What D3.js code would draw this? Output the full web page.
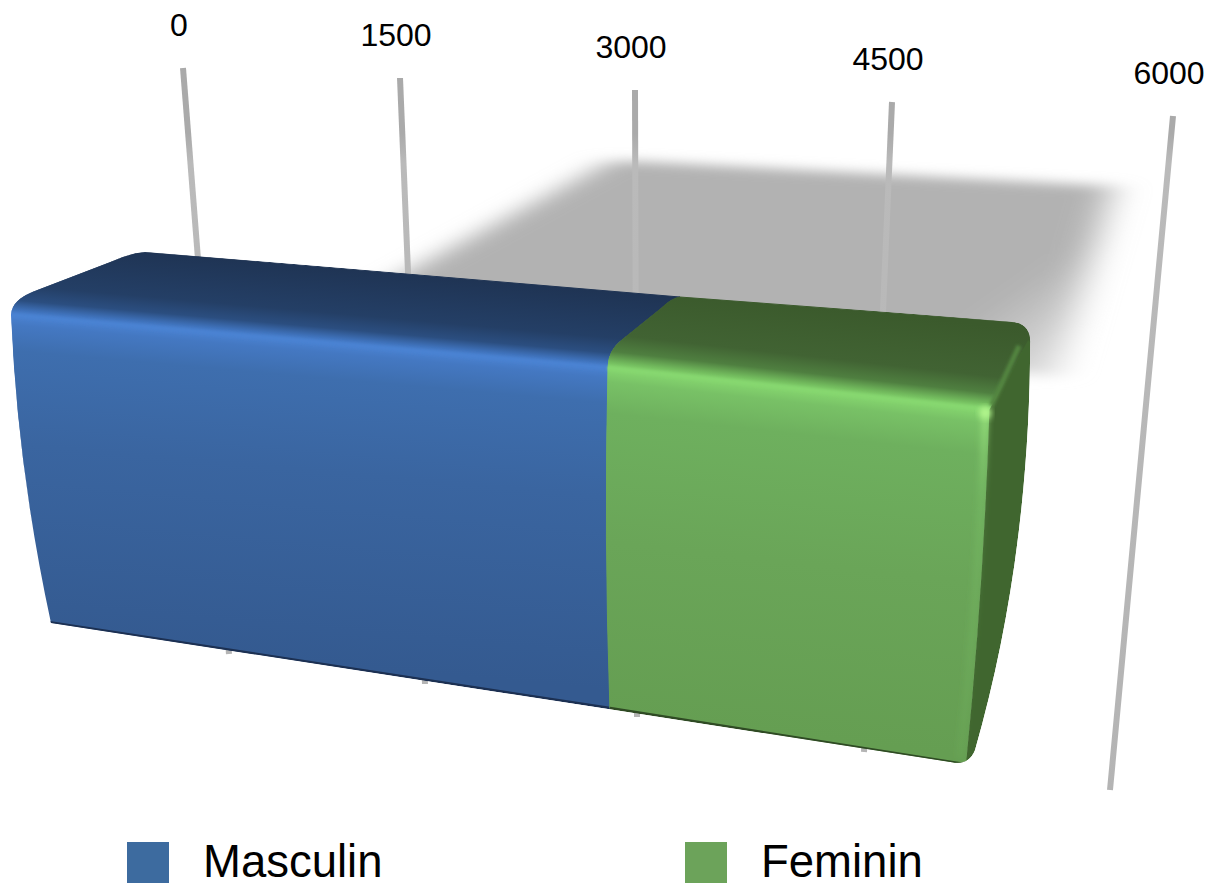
<!DOCTYPE html>
<html>
<head>
<meta charset="utf-8">
<script src="https://cdn.jsdelivr.net/npm/d3@7"></script>
<style>
body { margin: 0; background: #fff; overflow: hidden; }
text { font-family: "Liberation Sans", Arial, sans-serif; fill: #000; }
</style>
</head>
<body>
<div id="chart"></div>
<script>
// values
let tickValues = [0, 1500, 3000, 4500, 6000];
let seriesNames = ['Masculin', 'Feminin'];
let seriesValues = [3450, 1930];

// colours per series
let swatchColors = ['#3d6b9f', '#6ca35a'];
let frontStops = [
	[[0, '#4a82d2'], [0.03, '#4478c2'], [0.11, '#3e6eae'], [0.4, '#3a65a0'], [1, '#345a90']],
	[[0, '#86d76f'], [0.04, '#78c166'], [0.13, '#6eb05e'], [0.5, '#6aa558'], [1, '#659e52']]
];
let topStops = [
	[[0, '#1f3454'], [0.6, '#243f66'], [0.8, '#2b4e80'], [0.93, '#3f72bb'], [1, '#4a82d2']],
	[[0, '#3b5a2c'], [0.6, '#416333'], [0.8, '#4f7f40'], [0.93, '#73bc5e'], [1, '#86d76f']]
];
let highlightColors = ['#4a82d2', '#86d76f'];
let edgeColors = ['#1c3052', '#2f4a24'];

let width = 1209,
	height = 883,
	svg = d3.select('#chart').append('svg')
		.attr('width', width)
		.attr('height', height),
	defs = svg.append('defs');

let stack = [0, ...d3.cumsum(seriesValues)],
	total = stack[stack.length - 1];

// the chart is in perspective: every edge of the box gets its own pair of scales
let edge = (xs, ys) => {
	let sx = d3.scaleLinear().domain(tickValues).range(xs),
		sy = d3.scaleLinear().domain(tickValues).range(ys);
	return (v) => ({x: sx(v), y: sy(v)});
};
let gridTop = edge([183, 400, 635, 892, 1173], [68, 78, 90, 102, 116]),
	gridBottom = edge([229, 425, 637, 864, 1110], [654, 684, 717, 752, 790]),
	frontTop = edge([11, 262, 524, 804, 1120], [315, 338, 361, 384, 428]),
	frontBottom = edge([48, 292, 537, 780, 1097], [622, 659, 696, 736, 784]),
	backTop = edge([145, 378, 610, 843, 1162], [252, 272, 291, 311, 333]);

// sides of the box bow a little
let bow = d3.scaleLinear().domain(stack).range([-12, -5, 6]);

// shadow lies on the wall behind the box
let shadowBackX = d3.scaleLinear().domain([0, total]).range([612, 1112]),
	shadowBackY = d3.scaleLinear().domain([0, total]).range([160, 186]),
	shadowFrontX = d3.scaleLinear().domain([0, total]).range([383, 1056]),
	shadowFrontY = d3.scaleLinear().domain([0, total]).range([285, 378]);

let addBlur = (id, dev) => {
	defs.append('filter')
		.attr('id', id)
		.attr('x', '-30%').attr('y', '-30%')
		.attr('width', '160%').attr('height', '160%')
		.append('feGaussianBlur')
		.attr('stdDeviation', dev);
};
addBlur('blurShadow', '18 6');
addBlur('blurSoft', 3);
addBlur('blurThin', 1.6);

let addGradient = (id, from, to, stops) => {
	let g = defs.append('linearGradient')
		.attr('id', id)
		.attr('gradientUnits', 'userSpaceOnUse')
		.attr('x1', from.x).attr('y1', from.y)
		.attr('x2', to.x).attr('y2', to.y);
	stops.forEach((s) => {
		g.append('stop').attr('offset', s[0]).attr('stop-color', s[1]);
	});
};
let middle = (a, b) => ({x: (a.x + b.x) / 2, y: (a.y + b.y) / 2});

// foot of the perpendicular from p onto the line a-b, so shading runs across the face
let foot = (p, a, b) => {
	let dx = b.x - a.x, dy = b.y - a.y,
		t = ((p.x - a.x) * dx + (p.y - a.y) * dy) / (dx * dx + dy * dy);
	return {x: a.x + t * dx, y: a.y + t * dy};
};

// rounded edge between front and back of the top face
let cornerUp = (p, f, b) => {
	let dx = b.x - f.x, dy = b.y - f.y;
	p.quadraticCurveTo(f.x, f.y + 0.25 * dy, f.x + 0.2 * dx, f.y + 0.4 * dy);
	p.lineTo(f.x + 0.74 * dx, f.y + 0.84 * dy);
	p.quadraticCurveTo(f.x + 0.88 * dx, f.y + 0.98 * dy, b.x, b.y);
};
let cornerDown = (p, f, b) => {
	let dx = b.x - f.x, dy = b.y - f.y;
	p.quadraticCurveTo(f.x + 0.88 * dx, f.y + 0.98 * dy, f.x + 0.74 * dx, f.y + 0.84 * dy);
	p.lineTo(f.x + 0.2 * dx, f.y + 0.4 * dy);
	p.quadraticCurveTo(f.x, f.y + 0.25 * dy, f.x, f.y);
};

// right hand end of the box
let endFront = frontTop(total),
	endBottom = frontBottom(total),
	endBack = backTop(total);

let addEndTop = (p) => {
	p.lineTo(endBack.x - 18, endBack.y - 2);
	p.quadraticCurveTo(endBack.x, endBack.y, endBack.x, endBack.y + 18);
};
let addEndSide = (p) => {
	let sx = endBottom.x + 9, sy = endBottom.y - 14;
	p.bezierCurveTo(endBack.x, endBack.y + 153, sx + 38, sy - 132, sx, sy);
	p.quadraticCurveTo(endBottom.x + 3, endBottom.y + 1, endBottom.x - 14, endBottom.y - 2);
};

let silhouette = () => {
	let p = d3.path();
	let f0 = frontTop(0), b0 = backTop(0), bot0 = frontBottom(0);
	p.moveTo(f0.x, f0.y);
	cornerUp(p, f0, b0);
	addEndTop(p);
	addEndSide(p);
	p.lineTo(bot0.x + 3, bot0.y + 1);
	p.quadraticCurveTo((f0.x + bot0.x) / 2 + bow(0), (f0.y + bot0.y) / 2, f0.x, f0.y);
	p.closePath();
	return p.toString();
};
defs.append('clipPath').attr('id', 'boxClip')
	.append('path').attr('d', silhouette());

// shadow, it thins out towards the lower right
addGradient('shadowFill',
	{x: endBack.x - 30, y: endBack.y - 25},
	{x: shadowFrontX(total), y: shadowFrontY(total)},
	[[0, '#b2b2b2'], [1, '#e4e4e4']]);
let shadowPath = d3.path();
shadowPath.moveTo(shadowFrontX(0), shadowFrontY(0));
shadowPath.lineTo(shadowBackX(0), shadowBackY(0));
shadowPath.lineTo(shadowBackX(total), shadowBackY(total));
shadowPath.lineTo(shadowFrontX(total), shadowFrontY(total));
shadowPath.closePath();
svg.append('path')
	.attr('d', shadowPath.toString())
	.attr('fill', 'url(#shadowFill)')
	.attr('filter', 'url(#blurShadow)');

// grid lines, lighter where they cross the shadow
defs.append('linearGradient')
	.attr('id', 'gridStroke')
	.attr('gradientUnits', 'userSpaceOnUse')
	.attr('x1', 0).attr('y1', 60).attr('x2', 0).attr('y2', 800)
	.call((g) => {
		g.append('stop').attr('offset', 0.1).attr('stop-color', '#aaaaaa');
		g.append('stop').attr('offset', 0.14).attr('stop-color', '#bababa');
		g.append('stop').attr('offset', 1).attr('stop-color', '#b4b4b4');
	});
svg.append('g').selectAll('line')
	.data(tickValues)
	.enter().append('line')
	.attr('x1', (d) => gridTop(d).x)
	.attr('y1', (d) => gridTop(d).y)
	.attr('x2', (d) => gridBottom(d).x)
	.attr('y2', (d) => gridBottom(d).y)
	.attr('stroke', 'url(#gridStroke)')
	.attr('stroke-width', 6);

svg.append('g').selectAll('text')
	.data(tickValues)
	.enter().append('text')
	.attr('x', (d) => gridTop(d).x - 4)
	.attr('y', (d) => gridTop(d).y - 32.5)
	.attr('text-anchor', 'middle')
	.attr('font-size', 32)
	.text((d) => d);

// the box
let box = svg.append('g').attr('clip-path', 'url(#boxClip)');

seriesValues.forEach((val, i) => {
	let v0 = stack[i], v1 = stack[i + 1],
		last = i === seriesValues.length - 1,
		f0 = frontTop(v0), f1 = frontTop(v1),
		b0 = backTop(v0), b1 = backTop(v1),
		d0 = frontBottom(v0), d1 = frontBottom(v1),
		bm = middle(b0, b1),
		dm = middle(d0, d1);

	// both faces take their shading from the lit front edge
	addGradient('top' + i, bm, foot(bm, f0, f1), topStops[i]);
	addGradient('front' + i, foot(dm, f0, f1), dm, frontStops[i]);

	let top = d3.path();
	top.moveTo(f0.x, f0.y);
	cornerUp(top, f0, b0);
	if (last) {
		addEndTop(top);
		top.lineTo(f1.x, f1.y);
	} else {
		top.lineTo(b1.x, b1.y);
		cornerDown(top, f1, b1);
	}
	top.closePath();
	box.append('path')
		.attr('d', top.toString())
		.attr('fill', 'url(#top' + i + ')')
		.attr('stroke', 'url(#top' + i + ')')
		.attr('stroke-width', 1);

	let front = d3.path();
	front.moveTo(f0.x, f0.y);
	front.lineTo(f1.x, f1.y);
	front.quadraticCurveTo((f1.x + d1.x) / 2 + bow(v1), (f1.y + d1.y) / 2, d1.x, d1.y);
	front.lineTo(d0.x, d0.y);
	front.quadraticCurveTo((f0.x + d0.x) / 2 + bow(v0), (f0.y + d0.y) / 2, f0.x, f0.y);
	front.closePath();
	box.append('path')
		.attr('d', front.toString())
		.attr('fill', 'url(#front' + i + ')')
		.attr('stroke', 'url(#front' + i + ')')
		.attr('stroke-width', 1);

	// light running along the front edge
	box.append('line')
		.attr('x1', f0.x).attr('y1', f0.y)
		.attr('x2', f1.x).attr('y2', f1.y)
		.attr('stroke', highlightColors[i])
		.attr('stroke-width', 4)
		.attr('filter', 'url(#blurThin)');

	// dark line along the floor
	box.append('line')
		.attr('x1', d0.x).attr('y1', d0.y)
		.attr('x2', d1.x).attr('y2', d1.y)
		.attr('stroke', edgeColors[i])
		.attr('stroke-width', 2.5);
});

// end cap of the last series
let side = d3.path();
side.moveTo(endFront.x, endFront.y);
side.lineTo(endBack.x - 2, endBack.y + 16);
side.lineTo(endBack.x, endBack.y + 18);
addEndSide(side);
side.lineTo(endBottom.x, endBottom.y);
side.quadraticCurveTo((endFront.x + endBottom.x) / 2 + bow(total), (endFront.y + endBottom.y) / 2, endFront.x, endFront.y);
side.closePath();
box.append('path').attr('d', side.toString()).attr('fill', '#40662f');

// bevel highlights at the end
defs.append('linearGradient')
	.attr('id', 'bevelStroke')
	.attr('gradientUnits', 'userSpaceOnUse')
	.attr('x1', 0).attr('y1', endFront.y)
	.attr('x2', 0).attr('y2', endBottom.y)
	.call((g) => {
		g.append('stop').attr('offset', 0).attr('stop-color', '#a4ea84').attr('stop-opacity', 0.8);
		g.append('stop').attr('offset', 0.25).attr('stop-color', '#8ad674').attr('stop-opacity', 0.25);
		g.append('stop').attr('offset', 1).attr('stop-color', '#8ad674').attr('stop-opacity', 0.1);
	});
let bevel = d3.path();
bevel.moveTo(endFront.x - 4, endFront.y);
bevel.quadraticCurveTo((endFront.x + endBottom.x) / 2 + bow(total) - 4, (endFront.y + endBottom.y) / 2, endBottom.x - 6, endBottom.y - 6);
box.append('path')
	.attr('d', bevel.toString())
	.attr('fill', 'none')
	.attr('stroke', 'url(#bevelStroke)')
	.attr('stroke-width', 6)
	.attr('filter', 'url(#blurSoft)');

box.append('line')
	.attr('x1', endFront.x + 2).attr('y1', endFront.y - 4)
	.attr('x2', endBack.x - 11).attr('y2', endBack.y + 22)
	.attr('stroke', '#528540')
	.attr('stroke-width', 5)
	.attr('filter', 'url(#blurThin)');

box.append('circle')
	.attr('cx', endFront.x - 4)
	.attr('cy', endFront.y + 3)
	.attr('r', 6)
	.attr('fill', '#b4f78e')
	.attr('filter', 'url(#blurSoft)');

// legend
let legendX = d3.scalePoint().domain(seriesNames).range([127, 685]);
let legend = svg.append('g').selectAll('g')
	.data(seriesNames)
	.enter().append('g')
	.attr('transform', (d) => 'translate(' + legendX(d) + ', 842)');
legend.append('rect')
	.attr('width', 42)
	.attr('height', 42)
	.attr('fill', (d, i) => swatchColors[i]);
legend.append('text')
	.attr('x', 76)
	.attr('y', 35)
	.attr('font-size', 45.5)
	.text((d) => d);
</script>
</body>
</html>
